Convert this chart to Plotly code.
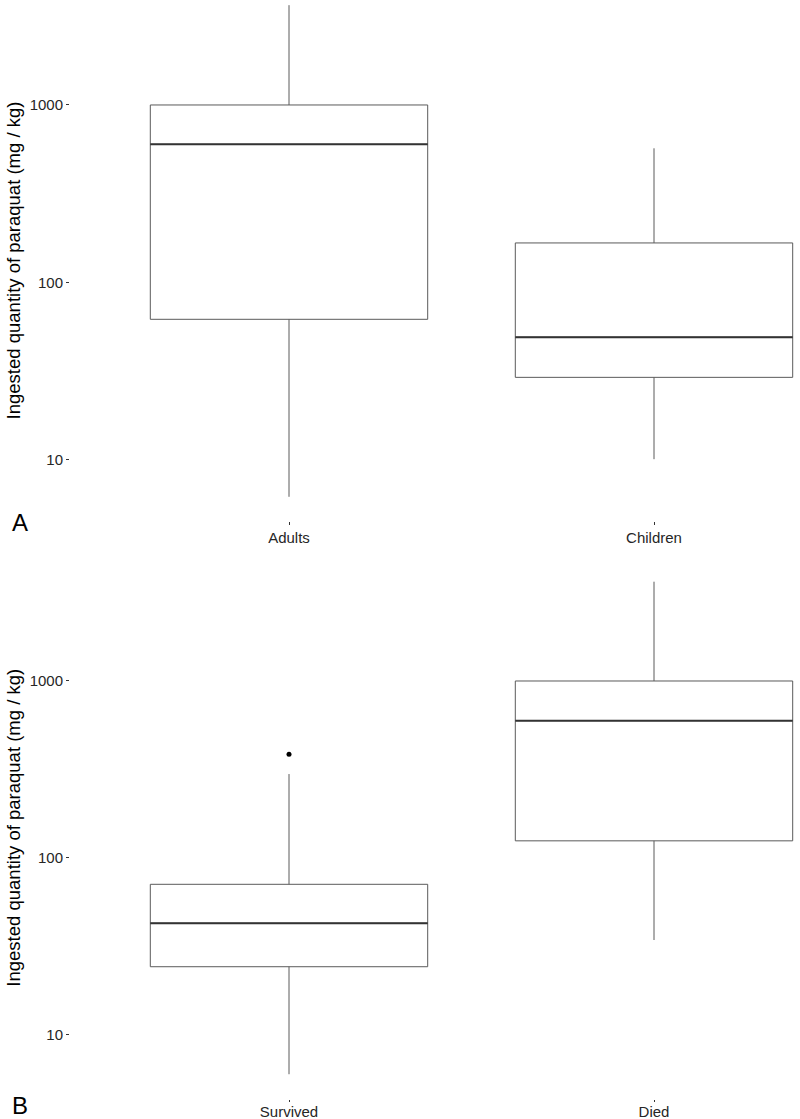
import plotly.graph_objects as go

# Panel A: Adults vs Children
groups_a = ["Adults", "Children"]
q1_a = [62, 29.2]
median_a = [600, 49.2]
q3_a = [1000, 167]
lower_a = [6.2, 10.1]
upper_a = [3650, 570]

# Panel B: Survived vs Died
groups_b = ["Survived", "Died"]
q1_b = [24.3, 125]
median_b = [42.8, 597]
q3_b = [71, 1000]
lower_b = [6.0, 34.4]
upper_b = [298, 3640]
outliers_b = {"Survived": [385], "Died": []}

yticks = [10, 100, 1000]
ytick_text = ["10", "100", "1000"]
ytitle = "Ingested quantity of paraquat (mg / kg)"

BOXW = 0.76
FONT = "Liberation Sans, Arial, sans-serif"

fig = go.Figure()


def add_panel(groups, q1, med, q3, lo, hi, xa, ya, outliers=None):
    for i, g in enumerate(groups):
        xpos = i + 1
        fig.add_trace(go.Box(
            x=[xpos], q1=[q1[i]], median=[med[i]], q3=[q3[i]],
            lowerfence=[lo[i]], upperfence=[hi[i]],
            width=BOXW, whiskerwidth=0, fillcolor="white",
            line=dict(color="#5a5a5a", width=1),
            boxpoints=False, showlegend=False, hoverinfo="skip",
            xaxis=xa, yaxis=ya,
        ))
        # thicker median line (ggplot style)
        fig.add_trace(go.Scatter(
            x=[xpos - BOXW / 2, xpos + BOXW / 2], y=[med[i], med[i]],
            mode="lines", line=dict(color="#333333", width=2),
            showlegend=False, hoverinfo="skip", xaxis=xa, yaxis=ya,
        ))
        if outliers and outliers.get(g):
            fig.add_trace(go.Scatter(
                x=[xpos] * len(outliers[g]), y=outliers[g], mode="markers",
                marker=dict(color="black", size=5),
                showlegend=False, hoverinfo="skip", xaxis=xa, yaxis=ya,
            ))


add_panel(groups_a, q1_a, median_a, q3_a, lower_a, upper_a, "x", "y")
add_panel(groups_b, q1_b, median_b, q3_b, lower_b, upper_b, "x2", "y2", outliers_b)

H = 1119
W = 800
L = 70
xcommon = dict(range=[0.4, 2.4], tickmode="array", tickvals=[1, 2],
               ticks="outside", ticklen=3, tickcolor="#333333", tickwidth=1,
               showgrid=False, zeroline=False, showline=False,
               tickfont=dict(family=FONT, size=15, color="#262626"))
ycommon = dict(type="log", tickmode="array", tickvals=yticks, ticktext=ytick_text,
               ticks="outside", ticklen=3, tickcolor="#333333", tickwidth=1,
               showgrid=False, zeroline=False, showline=False,
               tickfont=dict(family=FONT, size=15, color="#262626"),
               title=dict(text=ytitle, font=dict(family=FONT, size=18.5, color="black"), standoff=4))

fig.update_layout(
    width=W, height=H,
    margin=dict(l=L, r=0, t=0, b=0, autoexpand=False),
    paper_bgcolor="white", plot_bgcolor="white",
    xaxis=dict(xcommon, domain=[0, 1], anchor="y", ticktext=groups_a),
    yaxis=dict(ycommon, domain=[1 - 521 / H, 1], anchor="x", range=[0.656, 3.5915]),
    xaxis2=dict(xcommon, domain=[0, 1], anchor="y2", ticktext=groups_b,
                ticklen=2, ticklabelstandoff=-3),
    yaxis2=dict(ycommon, domain=[1 - 1098.5 / H, 1 - 557 / H], anchor="x2", range=[0.641, 3.7006]),
)

# panel letters, positioned in pixels converted to paper coords
for letter, px, py in [("A", 10, 522), ("B", 10, 1105)]:
    fig.add_annotation(text=letter, x=(px - L) / (W - L), y=1 - py / H,
                       xref="paper", yref="paper", showarrow=False,
                       xanchor="left", yanchor="middle",
                       font=dict(family=FONT, size=24, color="black"))

fig.write_html("out.html",
               config={"displayModeBar": False},
               post_script="document.body.style.margin='0';document.body.style.overflow='hidden';")
